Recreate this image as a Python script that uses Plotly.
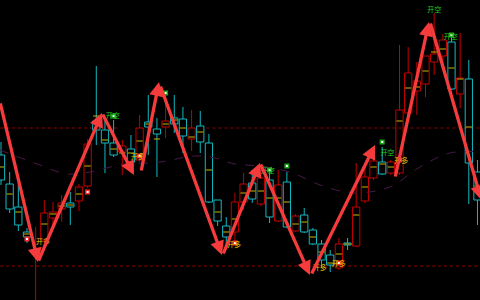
import plotly.graph_objects as go

# ---- candle data (index, open, high, low, close) ----
idx = list(range(56))
opens = [145,116,93,68,46,60,82,91,97,99,114,179,170,157,148,151,140,178,171,173,
         182,181,161,174,157,100,74,68,98,117,96,120,79,118,69,85,70,56,45,32,
         57,54,99,122,138,127,127,187,209,216,238,244,258,206,221,128]
highs = [158,128,117,72,73,100,98,105,108,116,161,234,183,180,160,165,185,205,182,207,
         205,193,190,189,166,100,83,107,127,130,134,132,130,128,86,92,72,60,50,62,
         62,137,137,147,153,140,255,253,238,244,287,266,265,267,240,140]
lows = [115,87,69,57,-2,55,75,78,75,89,112,155,127,143,125,137,138,145,123,162,
        167,147,149,147,97,74,53,58,90,97,94,77,78,72,68,67,55,32,28,30,
        50,53,97,120,125,125,125,183,185,203,225,235,210,192,96,75]
closes = [120,91,75,63,48,87,88,97,93,113,156,170,157,145,154,138,172,173,166,179,
          176,164,172,158,98,79,63,98,116,101,122,83,115,73,84,68,56,40,35,56,
          55,93,123,139,126,138,190,227,219,244,246,260,211,222,137,100]
mids = [133,106,88,66,47,76,86,94,95,106,134,184,160,151,147,147,159,176,161,176,
        180,172,163,168,130,88,68,81,107,109,109,102,102,98,76,78,63,48,37,46,
        56,85,113,133,136,133,179,212,213,229,248,251,232,221,173,114]

# moving-average curve (index, value)
ma_x = [-0.12,1.39,4.5,7.62,10.27,13.73,18.35,22.39,24.7,27.0,29.9,33.36,36.82,39.7,41.4,44.9,48.36,51.8,55.3]
ma_y = [150,145,135,126,128,135,138,144,142,136,134,128,115,108,107,113,133,147,148]

# zigzag arrows: (tail index, tail value, head index, head value)
arrow_tail_x = [-0.12, 4.27, 11.66, 16.16, 18.35, 25.6, 29.9, 35.78, 45.48, 49.52]
arrow_tail_y = [198, 38, 187, 128, 215, 45, 137, 25, 122, 278]
arrow_head_x = [4.27, 11.66, 15.35, 18.24, 25.51, 29.9, 35.66, 43.17, 49.4, 55.45]
arrow_head_y = [38, 187, 125, 218, 45, 137, 25, 155, 278, 100]

# signal markers
buy_dot_x = [3, 10, 16, 27, 39, 46]
buy_dot_y = [61, 108, 144, 57, 37, 140]
sell_dot_x = [13, 19, 31, 33, 44, 52]
sell_dot_y = [184, 207, 130, 134, 158, 265]

# text labels
long_lbl_x = [4.85, 15.8, 26.9, 36.8, 39.0, 46.2]
long_lbl_y = [58, 143, 55, 32, 36, 139]
short_lbl_x = [12.9, 30.8, 44.6, 50.0, 51.9]
short_lbl_y = [184, 129, 147, 290, 263]
long_text = "开多"
short_text = "开空"

# horizontal levels
level_hi = 172
level_lo = 34

RED = "#c00000"
CYAN = "#12b8c0"
YEL = "#c8b400"

fig = go.Figure()

# hollow bodies
for up, col in ((True, RED), (False, CYAN)):
    sel = [k for k in idx if (closes[k] >= opens[k]) == up]
    base = [min(opens[k], closes[k]) for k in sel]
    hgt = [max(abs(closes[k] - opens[k]), 0.6) for k in sel]
    fig.add_trace(go.Bar(x=sel, y=hgt, base=base, width=0.84,
                         marker=dict(color="rgba(0,0,0,0)", line=dict(color=col, width=1)),
                         showlegend=False, hoverinfo="skip"))
    wx, wy = [], []
    for k in sel:
        top = max(opens[k], closes[k])
        bot = min(opens[k], closes[k])
        if highs[k] > top:
            wx += [k, k, None]
            wy += [highs[k], top, None]
        if lows[k] < bot:
            wx += [k, k, None]
            wy += [bot, lows[k], None]
    fig.add_trace(go.Scatter(x=wx, y=wy, mode="lines", line=dict(color=col, width=1),
                             showlegend=False, hoverinfo="skip"))

mx, my = [], []
for i, m in zip(idx, mids):
    mx += [i - 0.36, i + 0.36, None]
    my += [m, m, None]
fig.add_trace(go.Scatter(x=mx, y=my, mode="lines", line=dict(color=YEL, width=1),
                         showlegend=False, hoverinfo="skip"))

fig.add_trace(go.Scatter(x=ma_x, y=ma_y, mode="lines",
                         line=dict(color="#4a1848", width=1, dash="dash", shape="spline"),
                         showlegend=False, hoverinfo="skip"))

fig.add_trace(go.Scatter(x=buy_dot_x, y=buy_dot_y, mode="markers",
                         marker=dict(symbol="square", size=5, color="#ff2a2a"),
                         showlegend=False, hoverinfo="skip"))
fig.add_trace(go.Scatter(x=sell_dot_x, y=sell_dot_y, mode="markers",
                         marker=dict(symbol="square", size=5, color="#1aa81a"),
                         showlegend=False, hoverinfo="skip"))
fig.add_trace(go.Scatter(x=buy_dot_x + sell_dot_x, y=buy_dot_y + sell_dot_y, mode="markers",
                         marker=dict(symbol="square", size=2, color="#ffffff"),
                         showlegend=False, hoverinfo="skip"))

fig.add_trace(go.Scatter(x=long_lbl_x, y=long_lbl_y, mode="text",
                         text=[long_text] * len(long_lbl_x),
                         textfont=dict(family="Noto Sans CJK SC", size=7, color="#e8cc00"),
                         showlegend=False, hoverinfo="skip"))
fig.add_trace(go.Scatter(x=short_lbl_x, y=short_lbl_y, mode="text",
                         text=[short_text] * len(short_lbl_x),
                         textfont=dict(family="Noto Sans CJK SC", size=7, color="#22cc22"),
                         showlegend=False, hoverinfo="skip"))

for tx, ty, hx, hy in zip(arrow_tail_x, arrow_tail_y, arrow_head_x, arrow_head_y):
    fig.add_annotation(x=hx, y=hy, ax=tx, ay=ty, xref="x", yref="y", axref="x", ayref="y",
                       text="", showarrow=True, arrowhead=2, arrowsize=0.85, arrowwidth=3.3,
                       arrowcolor="#f53b3b", standoff=0, startstandoff=0)

fig.add_shape(type="line", xref="paper", yref="y", x0=0, x1=0.25, y0=level_hi, y1=level_hi,
              line=dict(color="#8a0000", width=1, dash="dot"), layer="below")
fig.add_shape(type="line", xref="paper", yref="y", x0=0.43, x1=1, y0=level_hi, y1=level_hi,
              line=dict(color="#8a0000", width=1, dash="dot"), layer="below")
fig.add_shape(type="line", xref="paper", yref="y", x0=0, x1=1, y0=level_lo, y1=level_lo,
              line=dict(color="#8a0000", width=1, dash="dot"), layer="below")

fig.update_layout(
    width=480, height=300, margin=dict(l=0, r=0, t=0, b=0),
    paper_bgcolor="black", plot_bgcolor="black", barmode="overlay",
    xaxis=dict(range=[-0.115, 55.29], visible=False, showgrid=False, zeroline=False),
    yaxis=dict(range=[0, 300], visible=False, showgrid=False, zeroline=False),
    showlegend=False,
)

fig.write_html("out.html")
